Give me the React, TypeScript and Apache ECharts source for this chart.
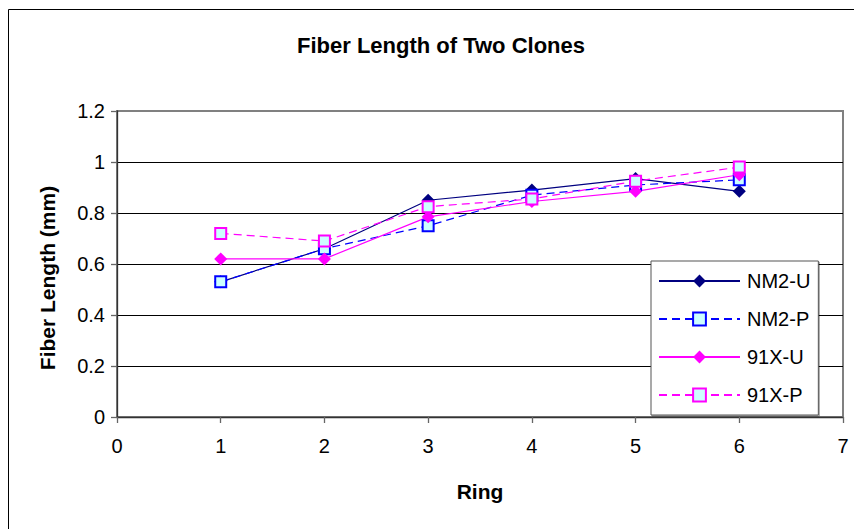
import React, { useEffect, useRef } from "react";
import * as echarts from "echarts";

const rings = [1, 2, 3, 4, 5, 6];
const nm2U = [0.53, 0.66, 0.85, 0.89, 0.935, 0.885];
const nm2P = [0.53, 0.66, 0.75, 0.87, 0.91, 0.93];
const x91U = [0.62, 0.62, 0.785, 0.845, 0.885, 0.95];
const x91P = [0.72, 0.69, 0.825, 0.855, 0.925, 0.98];
const xTicks = [0, 1, 2, 3, 4, 5, 6, 7];
const yTicks = [0, 0.2, 0.4, 0.6, 0.8, 1, 1.2];

const FONT = "Liberation Sans, Arial, sans-serif";

function pairs(vals: number[]) {
  return rings.map((r, i) => [r, vals[i]]);
}

export default function App() {
  const ref = useRef<HTMLDivElement>(null);
  useEffect(() => {
    if (!ref.current) return;
    const chart = echarts.init(ref.current, undefined, { renderer: "svg" });
    const dash = [8, 5];
    chart.setOption({
      animation: false,
      backgroundColor: "#fff",
      title: {
        text: "Fiber Length of Two Clones",
        left: 436,
        textAlign: "center",
        top: 29,
        textStyle: { fontFamily: FONT, fontSize: 22, fontWeight: "bold", color: "#000" },
      },
      graphic: [
        {
          type: "rect",
          shape: { x: 8.5, y: 9.5, width: 1000, height: 1000 },
          style: { fill: "none", stroke: "#000", lineWidth: 1 },
          silent: true,
        },
        {
          type: "text",
          x: 47,
          y: 278,
          rotation: Math.PI / 2,
          style: {
            text: "Fiber Length (mm)",
            fontFamily: FONT,
            fontSize: 21,
            fontWeight: "bold",
            fill: "#000",
            textAlign: "center",
            textVerticalAlign: "middle",
          },
          silent: true,
        },
      ],
      grid: {
        left: 117,
        right: 11,
        top: 111,
        bottom: 112,
        show: true,
        borderColor: "#808080",
        borderWidth: 2,
        backgroundColor: "transparent",
      },
      legend: {
        orient: "vertical",
        left: 651,
        top: 261,
        padding: [10, 8, 10, 7],
        itemWidth: 81,
        itemHeight: 16,
        itemGap: 18,
        backgroundColor: "#fff",
        borderColor: "#555",
        borderWidth: 1,
        shadowColor: "rgba(0,0,0,0.35)",
        shadowOffsetX: 1,
        shadowOffsetY: 1,
        shadowBlur: 1,
        textStyle: { fontFamily: FONT, fontSize: 20, color: "#000", padding: [0, 0, 0, 2] },
        data: ["NM2-U", "NM2-P", "91X-U", "91X-P"],
      },
      xAxis: {
        type: "value",
        min: 0,
        max: 7,
        interval: 1,
        name: "Ring",
        nameLocation: "middle",
        nameGap: 64,
        nameTextStyle: { fontFamily: FONT, fontSize: 21, fontWeight: "bold", color: "#000" },
        axisLine: { show: true, lineStyle: { color: "#333", width: 1.3 } },
        axisTick: { show: true, length: 6, lineStyle: { color: "#666", width: 1.3 } },
        axisLabel: {
          margin: 19,
          fontFamily: FONT,
          fontSize: 20,
          color: "#000",
          formatter: (v: number) => (xTicks.includes(v) ? String(v) : ""),
        },
        splitLine: { show: false },
      },
      yAxis: {
        type: "value",
        min: 0,
        max: 1.2,
        interval: 0.2,
        axisLine: { show: true, lineStyle: { color: "#333", width: 1.3 } },
        axisTick: { show: true, length: 6, lineStyle: { color: "#666", width: 1.3 } },
        axisLabel: {
          margin: 12,
          fontFamily: FONT,
          fontSize: 20,
          color: "#000",
          formatter: (v: number) => {
            const t = yTicks.find((y) => Math.abs(y - v) < 1e-9);
            return t === undefined ? "" : String(Math.round(t * 10) / 10);
          },
        },
        splitLine: { show: true, showMinLine: false, showMaxLine: false, lineStyle: { color: "#000", width: 1.2 } },
      },
      series: [
        {
          name: "NM2-U",
          type: "line",
          data: pairs(nm2U),
          symbol: "diamond",
          symbolSize: 13,
          lineStyle: { color: "#000080", width: 1.2, type: "solid" },
          itemStyle: { color: "#000080", borderColor: "#000080", borderWidth: 0 },
        },
        {
          name: "NM2-P",
          type: "line",
          data: pairs(nm2P),
          symbol: "rect",
          symbolSize: 11,
          lineStyle: { color: "#0000FF", width: 1.2, type: dash },
          itemStyle: { color: "#CCFFFF", borderColor: "#0000FF", borderWidth: 2 },
        },
        {
          name: "91X-U",
          type: "line",
          data: pairs(x91U),
          symbol: "diamond",
          symbolSize: 13,
          lineStyle: { color: "#FF00FF", width: 1.2, type: "solid" },
          itemStyle: { color: "#FF00FF", borderColor: "#FF00FF", borderWidth: 0 },
        },
        {
          name: "91X-P",
          type: "line",
          data: pairs(x91P),
          symbol: "rect",
          symbolSize: 11,
          lineStyle: { color: "#FF00FF", width: 1.2, type: dash },
          itemStyle: { color: "#CCFFFF", borderColor: "#FF00FF", borderWidth: 2 },
        },
      ],
    });
    return () => chart.dispose();
  }, []);
  return (
    <div
      ref={ref}
      style={{ position: "absolute", left: 0, top: 0, width: 854, height: 529 }}
    />
  );
}
